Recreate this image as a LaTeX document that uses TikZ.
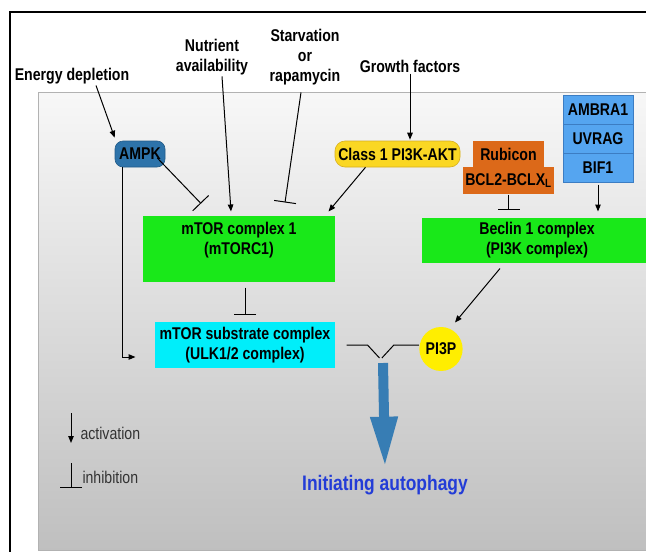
\documentclass[tikz,border=0pt]{standalone}
\usepackage{fontspec}
\setmainfont{Liberation Sans}[FakeStretch=0.83]
\usetikzlibrary{arrows.meta,shapes.geometric}
\definecolor{ampkblue}{RGB}{45,115,170}
\definecolor{aktyellow}{RGB}{250,215,35}
\definecolor{aktline}{RGB}{215,175,30}
\definecolor{rubiorange}{RGB}{220,105,25}
\definecolor{stackblue}{RGB}{85,165,240}
\definecolor{stackline}{RGB}{60,125,195}
\definecolor{cplxgreen}{RGB}{25,232,25}
\definecolor{ulkcyan}{RGB}{0,238,250}
\definecolor{pipyellow}{RGB}{255,238,0}
\definecolor{bigblue}{RGB}{55,125,180}
\definecolor{autoblue}{RGB}{35,60,215}

\begin{document}
\begin{tikzpicture}[x = 1pt, y = -1pt, line width = 1pt,
                    lbl/.style = {font = \fontsize{17}{20}\selectfont\bfseries, align = center, inner sep = 1pt},
                    box/.style = {lbl, inner sep = 0pt, minimum height = 26pt},
                    stack/.style = {box, fill = stackblue, draw = stackline, minimum width = 70pt, minimum height = 29pt},
                    orange/.style = {box, fill = rubiorange},
                    cplx/.style = {lbl, inner sep = 0pt, fill = cplxgreen},
                    legend/.style = {font = \fontsize{17}{20}\selectfont, text = black!80, inner sep = 1pt, anchor = west},
                    act/.style = {-{Triangle[length = 7pt, width = 5.5pt]}},
                    inh/.style = {-{Bar[width = 22pt]}},
                    bigarr/.style = {line width = 10pt, bigblue, -{Triangle[length = 51pt, width = 25pt]}}]
      \useasboundingbox (0, 0) rectangle (646, 552);
      \clip (0, 0) rectangle (646, 552);
      \fill [white] (0, 0) rectangle (646, 552);
      \shade [top color = black!3, bottom color = black!25, draw = black!30, line width = 0.6pt] (38, 92) rectangle (660, 550);
      \draw [line width = 2pt] (10, 600) -- (10, 12) -- (700, 12);

      \node [lbl] (energy) at (72, 76){Energy depletion};
      \node [lbl] (nutrient) at (212, 57){Nutrient\\availability};
      \node [lbl] (starv) at (305, 57){Starvation\\or\\rapamycin};
      \node [lbl] (growth) at (410, 66){Growth factors};

      \node [box, fill = ampkblue, draw = ampkblue!80!black, line width = 0.6pt, rounded corners = 8pt, minimum width = 50pt] (ampk) at (140, 154){AMPK};
      \node [box, fill = aktyellow, draw = aktline, line width = 0.6pt, rounded corners = 10pt, minimum width = 125pt] (akt) at (397.5, 154){Class 1 PI3K-AKT};
      \node [orange, minimum width = 71pt] (rubicon) at (508.5, 154){Rubicon};
      \node [orange, minimum width = 91pt, minimum height = 27pt] (bcl) at (508.5, 180.5){BCL2-BCLX\textsubscript{L}};
      \node [stack] (ambra) at (598, 109.5){AMBRA1};
      \node [stack] (uvrag) at (598, 138.5){UVRAG};
      \node [stack] (bif) at (598, 167.5){BIF1};

      \node [cplx, minimum width = 192pt, minimum height = 66pt] (mtorc) at (239, 249){};
      \node [lbl] (mtorctxt) at (239, 240){mTOR complex 1\\(mTORC1)};
      \node [cplx, minimum width = 230pt, minimum height = 45pt] (beclin) at (537, 240.5){Beclin 1 complex\\(PI3K complex)};
      \node [cplx, fill = ulkcyan, minimum width = 180pt, minimum height = 46pt] (ulk) at (245, 345){mTOR substrate complex\\(ULK1/2 complex)};
      \node [lbl, ellipse, inner sep = 0pt, fill = pipyellow, minimum width = 38pt, minimum height = 44pt] (pi3p) at (441, 349){PI3P};
      \node [lbl, font = \fontsize{21}{24}\selectfont\bfseries, text = autoblue] (autoph) at (385, 485){Initiating autophagy};

      \draw [act] ([xshift = 24pt]energy.south) -- ([yshift = 3pt]ampk.north west);
      \draw [act] ([xshift = 10pt]nutrient.south) -- ([xshift = -8pt, yshift = 4pt]mtorc.north);
      \draw [inh] ([xshift = -4pt, yshift = -6pt]starv.south) -- ([xshift = 46pt, yshift = 13pt]mtorc.north);
      \draw [act] (growth.south) -- ([yshift = 1pt]akt.north -| growth.south);
      \draw [inh] ([xshift = -8pt, yshift = -4pt]ampk.east) -- ([xshift = -38pt, yshift = 12pt]mtorc.north);
      \draw [act] ([xshift = -32pt]akt.south) -- ([xshift = -7pt, yshift = 4pt]mtorc.north east);
      \draw [act] ([xshift = -18pt]ampk.south) |- ([xshift = -19pt, yshift = -12pt]ulk.west);
      \draw [inh] ([xshift = 6pt, yshift = -5pt]mtorc.south) -- ([yshift = 7pt]ulk.north);
      \draw [inh] (bcl.south) -- ([yshift = 8pt]beclin.north -| bcl.south);
      \draw [act] ([yshift = -2pt]bif.south) -- ([yshift = 6pt]beclin.north -| bif.south);
      \draw [act] ([xshift = -37pt, yshift = -5pt]beclin.south) -- ([xshift = 14pt, yshift = 4pt]pi3p.north);

      \draw ([xshift = 11pt]ulk.east) -- ++(21, 0) -- ++(12, 13);
      \draw ([yshift = 4pt]pi3p.west) -- ++(-25, 0) -- ++(-12, 13);
      \coordinate (junc) at (383, 363);
      \draw [bigarr] (junc) -- ([yshift = 6pt]autoph.north);

      \coordinate (acttop) at (71, 413);
      \coordinate (actend) at (71, 443);
      \coordinate (inhtop) at (71, 463);
      \coordinate (inhend) at (71, 488);
      \draw [act] (acttop) -- (actend);
      \draw [inh] (inhtop) -- (inhend);
      \node [legend] (actlbl) at (79, 433){activation};
      \node [legend] (inhlbl) at (81, 477){inhibition};
      \end{tikzpicture}
\end{document}
